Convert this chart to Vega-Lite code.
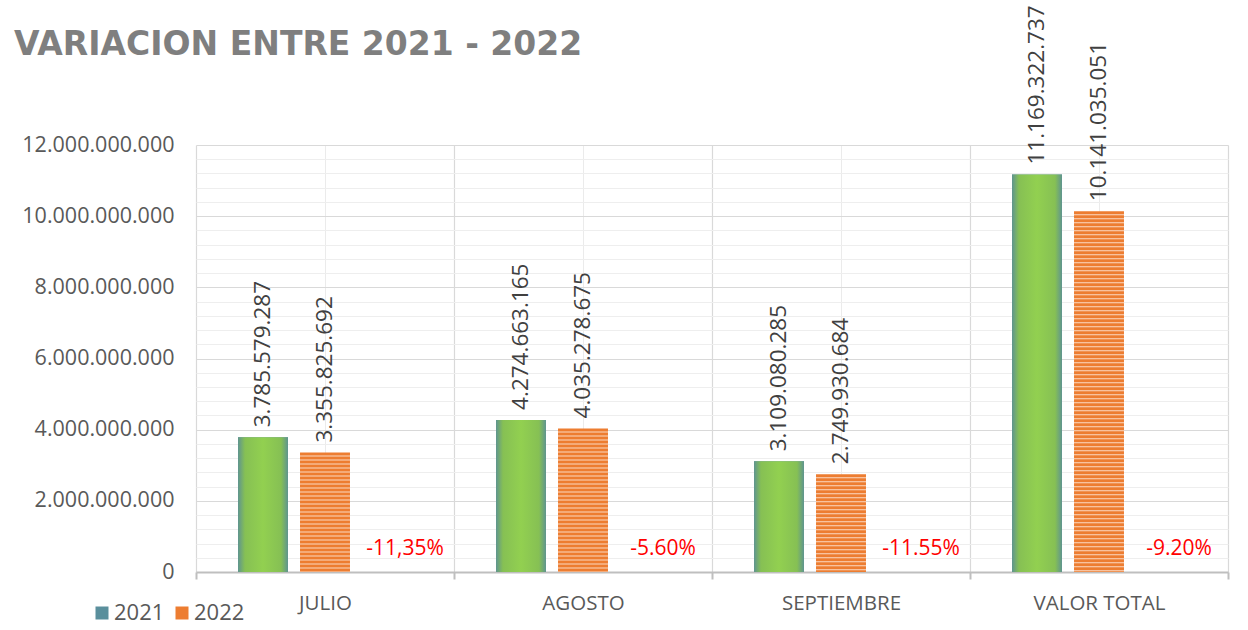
{
  "$schema": "https://vega.github.io/schema/vega-lite/v6.json",
  "width": 1032,
  "height": 427,
  "autosize": {"type": "none"},
  "padding": {"left": 196, "top": 145, "right": 20, "bottom": 58},
  "background": "white",
  "config": {
    "locale": {"number": {"decimal": ",", "thousands": ".", "grouping": [3], "currency": ["$", ""]}},
    "font": "Open Sans",
    "view": {"stroke": null}
  },
  "title": {
    "text": "VARIACION ENTRE 2021 - 2022",
    "anchor": "start",
    "frame": "group",
    "font": "DejaVu Sans",
    "fontSize": 33,
    "fontWeight": "bold",
    "color": "#7f7f7f",
    "dx": -182,
    "dy": 67,
    "offset": 10
  },
  "datasets": {
    "ventas": [
      {"mes": "JULIO", "anio": "2021", "valor": 3785579287},
      {"mes": "JULIO", "anio": "2022", "valor": 3355825692},
      {"mes": "AGOSTO", "anio": "2021", "valor": 4274663165},
      {"mes": "AGOSTO", "anio": "2022", "valor": 4035278675},
      {"mes": "SEPTIEMBRE", "anio": "2021", "valor": 3109080285},
      {"mes": "SEPTIEMBRE", "anio": "2022", "valor": 2749930684},
      {"mes": "VALOR TOTAL", "anio": "2021", "valor": 11169322737},
      {"mes": "VALOR TOTAL", "anio": "2022", "valor": 10141035051}
    ],
    "variacion": [
      {"mes": "JULIO", "serie": "pct", "texto": "-11,35%"},
      {"mes": "AGOSTO", "serie": "pct", "texto": "-5.60%"},
      {"mes": "SEPTIEMBRE", "serie": "pct", "texto": "-11.55%"},
      {"mes": "VALOR TOTAL", "serie": "pct", "texto": "-9.20%"}
    ]
  },
  "layer": [
    {
      "data": {"name": "ventas"},
      "mark": {"type": "bar"},
      "encoding": {
        "x": {
          "field": "mes", "type": "nominal",
          "sort": ["JULIO", "AGOSTO", "SEPTIEMBRE", "VALOR TOTAL"],
          "scale": {"paddingInner": 0, "paddingOuter": 0},
          "axis": {
            "orient": "bottom", "title": null, "labelAngle": 0,
            "labelFontSize": 20.5, "labelColor": "#595959", "labelPadding": 14,
            "tickBand": "extent", "tickSize": 7, "tickColor": "#bfbfbf", "tickWidth": 2,
            "domainColor": "#bfbfbf", "domainWidth": 2,
            "grid": true, "gridColor": "#d9d9d9", "gridWidth": 1.2
          }
        },
        "xOffset": {
          "field": "anio", "type": "nominal",
          "scale": {"domain": ["2021", "2022", "pct"], "paddingInner": 0.194, "paddingOuter": 0.678}
        },
        "y": {
          "field": "valor", "type": "quantitative",
          "scale": {"domain": [0, 12000000000], "nice": false},
          "axis": {
            "orient": "left", "title": null,
            "values": [0, 2000000000, 4000000000, 6000000000, 8000000000, 10000000000, 12000000000],
            "format": ",d", "labelFontSize": 21.5, "labelColor": "#595959", "labelPadding": 22,
            "ticks": false, "domain": false,
            "grid": true, "gridColor": "#d9d9d9"
          }
        },
        "color": {
          "field": "anio", "type": "nominal",
          "scale": {"domain": ["2021", "2022"], "range": ["#5a8f9c", "#ed7d31"]},
          "legend": {
            "title": null, "orient": "none", "direction": "horizontal",
            "legendX": -105, "legendY": 457,
            "symbolType": "square", "symbolSize": 169, "symbolStrokeWidth": 0,
            "labelFontSize": 22, "labelColor": "#595959", "labelOffset": 1,
            "columnPadding": 6
          }
        }
      }
    },
    {
      "data": {"name": "ventas"},
      "transform": [{"filter": "datum.anio === '2021'"}],
      "mark": {
        "type": "bar",
        "fill": {
          "gradient": "linear", "x1": 0, "y1": 0, "x2": 1, "y2": 0,
          "stops": [
            {"offset": 0, "color": "#5f958f"},
            {"offset": 0.14, "color": "#86c054"},
            {"offset": 0.5, "color": "#92d050"},
            {"offset": 0.86, "color": "#86c054"},
            {"offset": 1, "color": "#5f958f"}
          ]
        }
      },
      "encoding": {
        "x": {
          "field": "mes", "type": "nominal",
          "sort": ["JULIO", "AGOSTO", "SEPTIEMBRE", "VALOR TOTAL"],
          "axis": {
            "orient": "bottom", "bandPosition": 0.5, "grid": true, "gridColor": "#ebebeb",
            "labels": false, "ticks": false, "domain": false, "title": null
          }
        },
        "xOffset": {"field": "anio", "type": "nominal"},
        "y": {
          "field": "valor", "type": "quantitative",
          "axis": {
            "orient": "left", "title": null, "labels": false, "ticks": false, "domain": false,
            "grid": true, "gridColor": "#eeeeee",
            "values": [400000000, 800000000, 1200000000, 1600000000, 2400000000, 2800000000, 3200000000, 3600000000, 4400000000, 4800000000, 5200000000, 5600000000, 6400000000, 6800000000, 7200000000, 7600000000, 8400000000, 8800000000, 9200000000, 9600000000, 10400000000, 10800000000, 11200000000, 11600000000]
          }
        }
      }
    },
    {
      "data": {"name": "ventas"},
      "transform": [{"filter": "datum.anio === '2022'"}],
      "mark": {"type": "rule", "stroke": "#fbd9c2", "strokeWidth": 50, "strokeDash": [1, 3], "strokeDashOffset": 1, "strokeCap": "butt"},
      "encoding": {
        "x": {"field": "mes", "type": "nominal", "sort": ["JULIO", "AGOSTO", "SEPTIEMBRE", "VALOR TOTAL"], "axis": null},
        "xOffset": {"field": "anio", "type": "nominal"},
        "y": {"field": "valor", "type": "quantitative", "axis": null},
        "y2": {"datum": 0}
      }
    },
    {
      "data": {"name": "ventas"},
      "mark": {"type": "text", "angle": 270, "align": "left", "baseline": "middle", "dx": 10, "fontSize": 22.5, "color": "#404040"},
      "encoding": {
        "x": {"field": "mes", "type": "nominal", "sort": ["JULIO", "AGOSTO", "SEPTIEMBRE", "VALOR TOTAL"], "axis": null},
        "xOffset": {"field": "anio", "type": "nominal"},
        "y": {"field": "valor", "type": "quantitative", "axis": null},
        "text": {"field": "valor", "type": "quantitative", "format": ",d"}
      }
    },
    {
      "data": {"name": "variacion"},
      "mark": {"type": "text", "align": "center", "baseline": "alphabetic", "dx": 18, "dy": -17, "fontSize": 21, "color": "#ff0000"},
      "encoding": {
        "x": {"field": "mes", "type": "nominal", "sort": ["JULIO", "AGOSTO", "SEPTIEMBRE", "VALOR TOTAL"], "axis": null},
        "xOffset": {"field": "serie", "type": "nominal"},
        "y": {"datum": 0, "type": "quantitative", "axis": null},
        "text": {"field": "texto", "type": "nominal"}
      }
    }
  ],
  "resolve": {"axis": {"x": "independent", "y": "independent"}}
}
